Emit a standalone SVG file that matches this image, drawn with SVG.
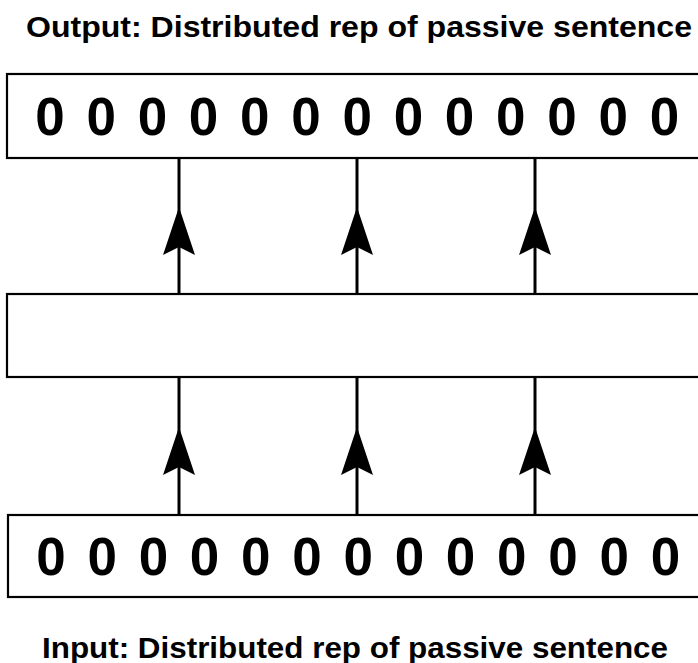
<svg xmlns="http://www.w3.org/2000/svg" width="698" height="663" viewBox="0 0 698 663">
  <style>
    .box { fill: #ffffff; stroke: #000000; stroke-width: 2.2; }
    .link { stroke: #000000; stroke-width: 3; fill: none; }
    .head { fill: #000000; }
    .title { font-family: "Liberation Sans", Arial, sans-serif; font-weight: bold; font-size: 29px; fill: #000000; }
    .bit { font-family: "Liberation Sans", Arial, sans-serif; font-weight: bold; font-size: 53px; fill: #000000; text-anchor: middle; }
  </style>
  <defs>
    <path id="arrowhead" d="M0,0 L16,48 L0,40 L-16,48 Z"/>
  </defs>
  <rect width="698" height="663" fill="#ffffff"/>

  <g id="output-label">
    <text class="title" x="26" y="37" textLength="666" lengthAdjust="spacingAndGlyphs">Output: Distributed rep of passive sentence</text>
  </g>

  <!-- connectors between the three layers -->
  <g id="connectors">
    <line class="link" x1="179" y1="158" x2="179" y2="294"/>
    <line class="link" x1="357" y1="158" x2="357" y2="294"/>
    <line class="link" x1="535" y1="158" x2="535" y2="294"/>
    <use href="#arrowhead" class="head" x="179" y="207"/>
    <use href="#arrowhead" class="head" x="357" y="207"/>
    <use href="#arrowhead" class="head" x="535" y="207"/>
    <line class="link" x1="179" y1="377" x2="179" y2="515"/>
    <line class="link" x1="357" y1="377" x2="357" y2="515"/>
    <line class="link" x1="535" y1="377" x2="535" y2="515"/>
    <use href="#arrowhead" class="head" x="179" y="427"/>
    <use href="#arrowhead" class="head" x="357" y="427"/>
    <use href="#arrowhead" class="head" x="535" y="427"/>
  </g>

  <g id="output-layer">
    <rect class="box" x="7" y="74" width="710" height="84"/>
    <text class="bit" x="50" y="135">0</text>
    <text class="bit" x="101.2" y="135">0</text>
    <text class="bit" x="152.4" y="135">0</text>
    <text class="bit" x="203.6" y="135">0</text>
    <text class="bit" x="254.8" y="135">0</text>
    <text class="bit" x="306" y="135">0</text>
    <text class="bit" x="357.2" y="135">0</text>
    <text class="bit" x="408.4" y="135">0</text>
    <text class="bit" x="459.6" y="135">0</text>
    <text class="bit" x="510.8" y="135">0</text>
    <text class="bit" x="562" y="135">0</text>
    <text class="bit" x="613.2" y="135">0</text>
    <text class="bit" x="664.4" y="135">0</text>
  </g>

  <g id="hidden-layer">
    <rect class="box" x="7" y="294" width="710" height="83"/>
  </g>

  <g id="input-layer">
    <rect class="box" x="8" y="515" width="710" height="82"/>
    <text class="bit" x="51" y="575">0</text>
    <text class="bit" x="102.2" y="575">0</text>
    <text class="bit" x="153.4" y="575">0</text>
    <text class="bit" x="204.6" y="575">0</text>
    <text class="bit" x="255.8" y="575">0</text>
    <text class="bit" x="307" y="575">0</text>
    <text class="bit" x="358.2" y="575">0</text>
    <text class="bit" x="409.4" y="575">0</text>
    <text class="bit" x="460.6" y="575">0</text>
    <text class="bit" x="511.8" y="575">0</text>
    <text class="bit" x="563" y="575">0</text>
    <text class="bit" x="614.2" y="575">0</text>
    <text class="bit" x="665.4" y="575">0</text>
  </g>

  <g id="input-label">
    <text class="title" x="42" y="658" textLength="626" lengthAdjust="spacingAndGlyphs">Input: Distributed rep of passive sentence</text>
  </g>
</svg>
